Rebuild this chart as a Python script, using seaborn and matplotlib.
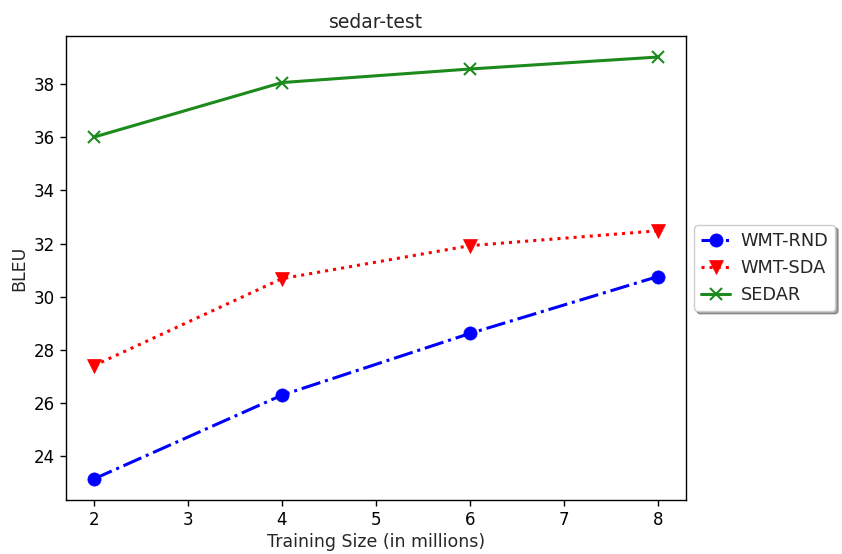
import matplotlib
matplotlib.use("Agg")
import matplotlib.pyplot as plt
import seaborn as sns
import pandas as pd

sizes = [2, 4, 6, 8]
wmt_rnd = [23.15, 26.3, 28.62, 30.76]
wmt_sda = [27.41, 30.68, 31.92, 32.48]
sedar = [36.0, 38.05, 38.56, 39.01]
series_names = ["WMT-RND", "WMT-SDA", "SEDAR"]

sns.set_style("white")
plt.rcParams["font.family"] = ["DejaVu Sans"]
plt.rcParams["xtick.bottom"] = True
plt.rcParams["ytick.left"] = True

fig = plt.figure(figsize=(8.42, 5.54), dpi=100)
ax = fig.add_axes([0.078, 0.0975, 0.737, 0.8375])

styles = [
    (wmt_rnd, "blue", "-.", "o", 9.5),
    (wmt_sda, "red", ":", "v", 9.5),
    (sedar, "#1c8a1c", "-", "x", 8.5),
]
for name, (vals, col, ls, mk, ms) in zip(series_names, styles):
    df = pd.DataFrame({"x": sizes, "y": vals})
    sns.lineplot(data=df, x="x", y="y", ax=ax, color=col, linestyle=ls,
                 marker=mk, markersize=ms, linewidth=2.2, label=name,
                 markeredgecolor=col, markeredgewidth=1.5 if mk == "x" else 0.5)

ax.set_xlim(1.7, 8.3)
ax.set_ylim(22.36, 39.8)
ax.set_yticks([24, 26, 28, 30, 32, 34, 36, 38])
ax.set_xticks([2, 3, 4, 5, 6, 7, 8])
ax.tick_params(labelsize=12, direction="out", length=4.5, width=1, colors="black")
for s in ax.spines.values():
    s.set_color("black")
    s.set_linewidth(1)
ax.set_title("sedar-test", fontsize=13.5)
ax.set_xlabel("Training Size (in millions)", fontsize=12.5, labelpad=3)
ax.set_ylabel("BLEU", fontsize=12.5)
ax.legend(loc="center left", bbox_to_anchor=(1.0, 0.5), shadow=True,
          fontsize=12.8, frameon=True, edgecolor="0.8", framealpha=1,
          fancybox=True, handlelength=1.6, handletextpad=0.6,
          borderaxespad=0.45)

fig.savefig("out.png", dpi=100)
